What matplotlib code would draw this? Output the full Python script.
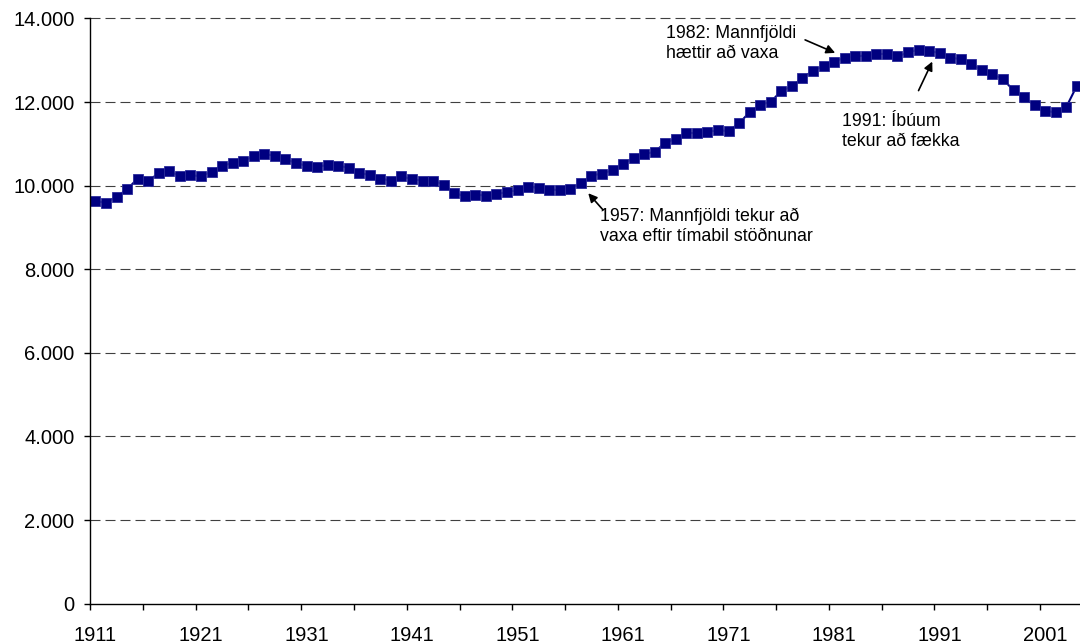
import numpy as np
import matplotlib
matplotlib.use("Agg")
import matplotlib.pyplot as plt
from matplotlib.ticker import FixedLocator

plt.rcParams['font.family'] = ['Liberation Sans', 'DejaVu Sans']

# Mannfjöldi 1911-2004 (lesið af mynd)
ar = list(range(1911, 2005))
ibuar = [9630, 9590, 9735, 9910, 10170, 10110, 10300, 10350, 10225, 10250,
         10225, 10335, 10480, 10535, 10585, 10705, 10750, 10720, 10625, 10550,
         10470, 10450, 10495, 10480, 10425, 10310, 10250, 10170, 10120, 10225,
         10150, 10120, 10120, 10025, 9825, 9745, 9785, 9760, 9790, 9850,
         9890, 9975, 9945, 9905, 9895, 9930, 10055, 10240, 10290, 10370,
         10510, 10670, 10750, 10810, 11025, 11120, 11265, 11250, 11290, 11320,
         11310, 11490, 11760, 11930, 12005, 12265, 12375, 12575, 12750, 12855,
         12965, 13060, 13095, 13110, 13145, 13155, 13090, 13185, 13255, 13215,
         13175, 13055, 13030, 12905, 12760, 12670, 12545, 12280, 12110, 11920,
         11790, 11750, 11880, 12385]

ar_merki = list(range(1911, 2002, 10))
y_merki = list(range(0, 14001, 2000))

# texti og örvar: (texti, textastaður, örvarhali, örvaroddur)
athugasemdir = [
    ("1957: Mannfjöldi tekur að\nvaxa eftir tímabil stöðnunar", (1958.8, 9036), (1959.1, 9419), (1957.7, 9818)),
    ("1982: Mannfjöldi\nhættir að vaxa", (1965.1, 13390), (1978.25, 13486), (1981.1, 13175)),
    ("1991: Íbúum\ntekur að fækka", (1981.7, 11297), (1989.0, 12273), (1990.3, 12967)),
]

fig = plt.figure(figsize=(10.8, 6.43), dpi=100)
ax = fig.add_axes([0.0835, 0.0611, 0.9165, 0.9103])

for v in y_merki[1:]:
    ax.axhline(v, color='#404040', lw=0.8, linestyle=(0, (9, 4.5)), clip_on=False, zorder=1)

ax.plot(ar, ibuar, color='#000080', lw=1.5, marker='s', markersize=6.5,
        markerfacecolor='#000080', markeredgecolor='#2a2a9a', markeredgewidth=0.6,
        clip_on=False, zorder=3)

for texti, pos, hali, oddur in athugasemdir:
    ax.text(pos[0], pos[1], texti, ha='left', va='center', fontsize=12.8,
            linespacing=1.24, color='black')
    ax.annotate('', xy=oddur, xytext=hali,
                arrowprops=dict(arrowstyle='-|>', color='black', lw=1.2,
                                mutation_scale=13, shrinkA=0, shrinkB=0))

ax.set_xlim(1910.5, 2004.3)
ax.set_ylim(0, 14000)

ax.set_xticks(ar_merki)
ax.set_xticklabels([str(a) for a in ar_merki], fontsize=14.5)
ax.xaxis.set_minor_locator(FixedLocator(np.arange(1910.5, 2010, 5)))
ax.tick_params(axis='x', which='major', length=0, pad=16)
ax.tick_params(axis='x', which='minor', length=4.3, width=1, direction='out')

ax.set_yticks(y_merki)
ax.set_yticklabels([f"{v:,}".replace(',', '.') for v in y_merki], fontsize=14.5)
ax.tick_params(axis='y', length=4.3, width=1, direction='out', pad=7)

for s in ['top', 'right']:
    ax.spines[s].set_visible(False)
for s in ['left', 'bottom']:
    ax.spines[s].set_linewidth(1)
    ax.spines[s].set_color('black')
    ax.spines[s].set_zorder(4)

fig.savefig('out.png', dpi=100)
